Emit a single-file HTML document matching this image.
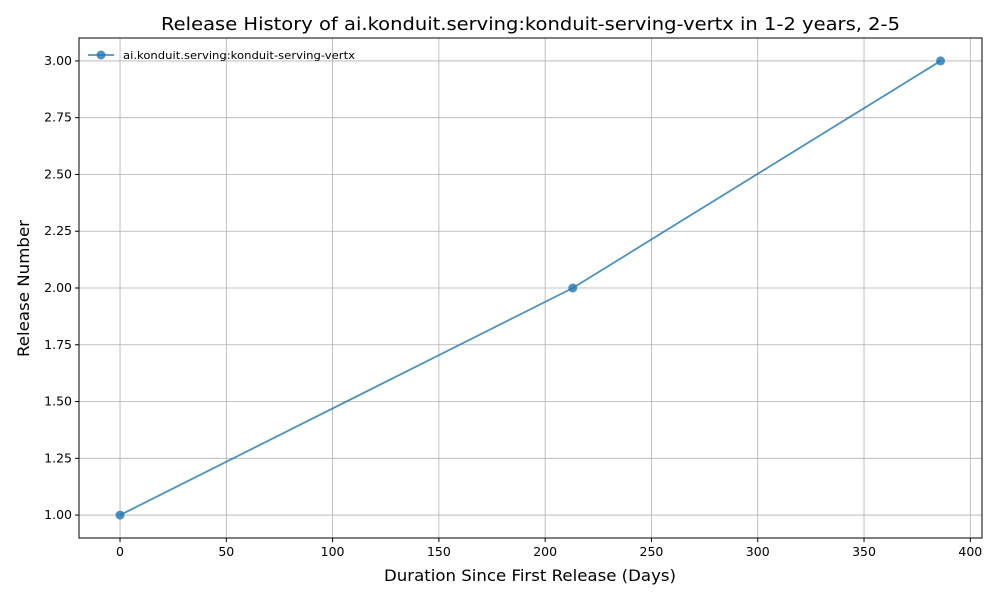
<!DOCTYPE html>
<html><head><meta charset="utf-8"><style>
body{margin:0;background:#fff;font-family:"DejaVu Sans","Liberation Sans",sans-serif;}
</style></head><body>
<svg id="chart" width="1000" height="600" xmlns="http://www.w3.org/2000/svg" font-family="DejaVu Sans, Liberation Sans, sans-serif">
<rect width="1000" height="600" fill="#fff"/>
<text x="161" y="30" font-size="18" textLength="739" lengthAdjust="spacingAndGlyphs" fill="#000">Release History of ai.konduit.serving:konduit-serving-vertx in 1-2 years, 2-5</text>
<g id="grid"></g>
<g id="series"></g>
<rect x="79" y="38" width="903" height="500" fill="none" stroke="#000" stroke-width="1"/>
<g id="ticks" font-size="12.5" fill="#000"></g>
<text x="384" y="581" font-size="16" textLength="292" lengthAdjust="spacingAndGlyphs">Duration Since First Release (Days)</text>
<text transform="translate(29,357) rotate(-90)" font-size="16" textLength="137" lengthAdjust="spacingAndGlyphs">Release Number</text>
<g>
<line x1="88" y1="55" x2="114" y2="55" stroke="#1f77b4" stroke-opacity="0.8" stroke-width="1.8"/>
<circle cx="101" cy="55" r="4.5" fill="#1f77b4" fill-opacity="0.8"/>
<text x="123" y="59" font-size="11" textLength="232" lengthAdjust="spacingAndGlyphs">ai.konduit.serving:konduit-serving-vertx</text>
</g>
</svg>
<script>
const days = [0, 213, 386];
const releases = [1, 2, 3];
const xTicks = [0, 50, 100, 150, 200, 250, 300, 350, 400];
const yTicks = [1.00, 1.25, 1.50, 1.75, 2.00, 2.25, 2.50, 2.75, 3.00];
const NS = "http://www.w3.org/2000/svg";
const L = 79, R = 982, T = 38, B = 538;
const xMin = -19.3, xMax = 405.5, yMin = 0.899, yMax = 3.101;
const xs = v => L + (v - xMin) / (xMax - xMin) * (R - L);
const ys = v => B - (v - yMin) / (yMax - yMin) * (B - T);
const grid = document.getElementById('grid'), ticks = document.getElementById('ticks'), ser = document.getElementById('series');
function mk(tag, attrs, parent){const e=document.createElementNS(NS,tag);for(const k in attrs)e.setAttribute(k,attrs[k]);parent.appendChild(e);return e;}
xTicks.forEach(t=>{
  const x=xs(t);
  const g=mk('line',{x1:x,y1:T,x2:x,y2:B,stroke:'#b0b0b0','stroke-width':0.8},grid);
  
  
  mk('line',{x1:x,y1:B,x2:x,y2:B+4,stroke:'#000'},ticks);
  const tx=mk('text',{x:x,y:B+18,'text-anchor':'middle'},ticks);
  tx.textContent=t;
  
  
});
yTicks.forEach(t=>{
  const y=ys(t);
  const g=mk('line',{x1:L,y1:y,x2:R,y2:y,stroke:'#b0b0b0','stroke-width':0.8},grid);
  
  
  mk('line',{x1:L-4,y1:y,x2:L,y2:y,stroke:'#000'},ticks);
  const tx=mk('text',{x:L-7,y:y+4,'text-anchor':'end'},ticks);
  tx.textContent=t.toFixed(2);
  
  
});
const pl=mk('polyline',{points:days.map((d,i)=>xs(d)+','+ys(releases[i])).join(' '),fill:'none',stroke:'#1f77b4','stroke-opacity':0.8,'stroke-width':1.8},ser);


days.forEach((d,i)=>{
  const c=mk('circle',{cx:xs(d),cy:ys(releases[i]),r:4.5,fill:'#1f77b4','fill-opacity':0.8},ser);
  
  
});
</script>
</body></html>
